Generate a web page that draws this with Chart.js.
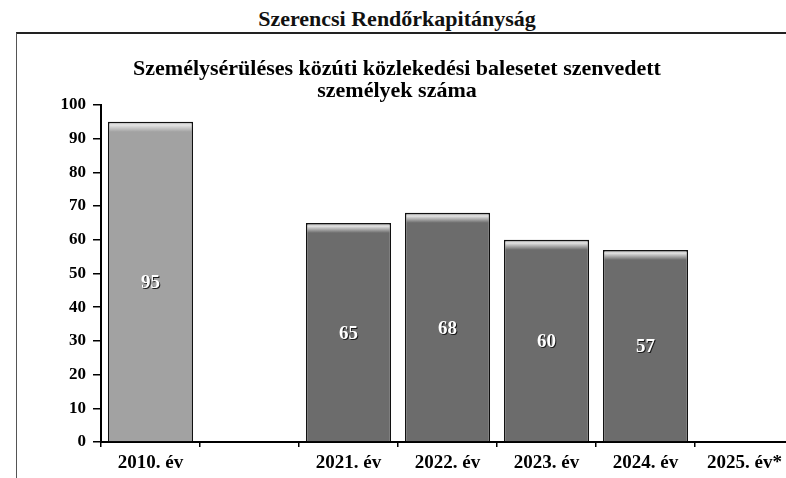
<!DOCTYPE html>
<html lang="hu">
<head>
<meta charset="utf-8">
<title>Szerencsi Rendőrkapitányság</title>
<script src="https://cdn.jsdelivr.net/npm/chart.js@4/dist/chart.umd.min.js"></script>
<style>
  html, body { margin: 0; padding: 0; background: #fff; }
  body { width: 786px; height: 478px; overflow: hidden; position: relative; font-family: "Liberation Serif", serif; }
  #header { position: absolute; left: 0; top: 6px; width: 794px; text-align: center; font-weight: bold; font-size: 22px; color: #111; }
  #frame { position: absolute; left: 16px; top: 32px; width: 800px; height: 460px; border-left: 1px solid #555; border-top: 2px solid #222; }
  #chart { position: absolute; left: 0; top: 34px; }
</style>
</head>
<body>
<div id="header">Szerencsi Rendőrkapitányság</div>
<div id="frame"></div>
<canvas id="chart" width="810" height="444"></canvas>
<script>
const chartTitle = ['Személysérüléses közúti közlekedési balesetet szenvedett', 'személyek száma'];
const years = ['2010. év', '', '2021. év', '2022. év', '2023. év', '2024. év', '2025. év*'];
const injured = [95, null, 65, 68, 60, 57, 0];
const yMin = 0;
const yMax = 100;
const yStep = 10;

const serif = '"Liberation Serif", "Times New Roman", serif';

// grey bar with a light strip along the top edge
function barFill(ctx) {
    const base = ctx.dataIndex === 0 ? '#a2a2a2' : '#6c6c6c';
    const chart = ctx.chart;
    const v = ctx.raw;
    if (!chart.chartArea || !chart.scales.y || !v) return base;
    const top = chart.scales.y.getPixelForValue(v);
    const bottom = chart.scales.y.getPixelForValue(0);
    const h = bottom - top;
    if (h < 20) return base;
    const g = chart.ctx.createLinearGradient(0, top, 0, bottom);
    g.addColorStop(0, base);
    g.addColorStop(3 / h, '#e6e6e6');
    g.addColorStop(10 / h, base);
    g.addColorStop(1, base);
    return g;
}

// white numbers in the middle of each bar
const valueLabels = {
    id: 'valueLabels',
    afterDatasetsDraw(chart) {
        const c = chart.ctx;
        const meta = chart.getDatasetMeta(0);
        c.save();
        c.font = 'bold 19px ' + serif;
        c.textAlign = 'center';
        c.textBaseline = 'middle';
        meta.data.forEach((bar, i) => {
            const v = injured[i];
            if (!v) return;
            const y = (bar.y + bar.base) / 2 + 2;
            c.fillStyle = '#1a1a1a';
            c.fillText(v, bar.x + 1, y + 1);
            c.fillStyle = '#ffffff';
            c.fillText(v, bar.x, y);
        });
        c.restore();
    }
};

new Chart(document.getElementById('chart'), {
    type: 'bar',
    data: {
        labels: years,
        datasets: [{
            data: injured,
            backgroundColor: barFill,
            borderColor: '#111',
            borderWidth: 1.5,
            barPercentage: 0.86,
            categoryPercentage: 1.0
        }]
    },
    options: {
        responsive: false,
        animation: false,
        devicePixelRatio: 1,
        layout: { padding: { left: 0, right: 16, top: 0, bottom: 0 } },
        plugins: {
            legend: { display: false },
            tooltip: { enabled: false },
            title: {
                display: true,
                text: chartTitle,
                color: '#000',
                font: { family: serif, size: 22, weight: 'bold', lineHeight: 1.0 },
                padding: { top: 24, bottom: 3 }
            }
        },
        scales: {
            x: {
                afterFit: (scale) => { scale.height = 36; },
                grid: { display: true, drawOnChartArea: false, offset: true, color: '#000', tickLength: 5, lineWidth: 1.5 },
                border: { display: true, color: '#000', width: 2 },
                ticks: { color: '#000', padding: 5, font: { family: serif, size: 19, weight: 'bold' } }
            },
            y: {
                min: yMin,
                max: yMax,
                afterFit: (scale) => { scale.width = 101; },
                grid: { display: true, drawOnChartArea: false, color: '#000', tickLength: 8, lineWidth: 1.5 },
                border: { display: true, color: '#000', width: 2 },
                ticks: { stepSize: yStep, color: '#000', padding: 7, font: { family: serif, size: 17, weight: 'bold' } }
            }
        }
    },
    plugins: [valueLabels]
});
</script>
</body>
</html>
